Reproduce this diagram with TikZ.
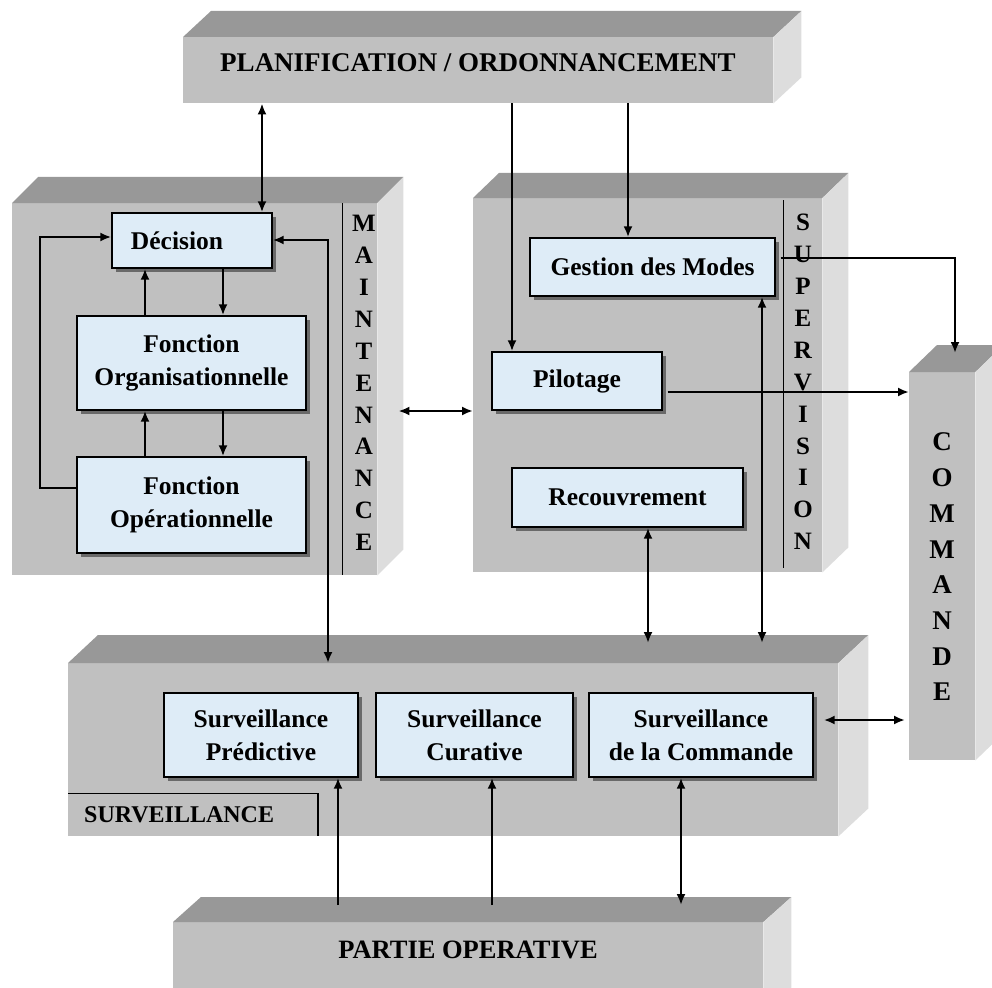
\documentclass[tikz,border=0pt]{standalone}
\usepackage{fontspec}
\setmainfont{Liberation Serif}
\usetikzlibrary{arrows.meta,calc,shadows}
\definecolor{topc}{RGB}{152,152,152}
\definecolor{frontc}{RGB}{192,192,192}
\definecolor{sidec}{RGB}{221,221,221}
\definecolor{boxc}{RGB}{222,236,247}
\definecolor{shadc}{RGB}{105,105,105}
\tikzset{
 front/.style={fill=frontc, draw=none, rectangle, inner sep=0pt, anchor=north west},
 ibox/.style={draw=black, line width=1.4pt, fill=boxc, rectangle, inner sep=0pt, align=center,
   font=\bfseries\fontsize{25.5}{33}\selectfont,
   general shadow={fill=shadc, shadow xshift=4pt, shadow yshift=-4pt}},
 arr/.style={line width=2.2pt, -{Latex[length=11pt,width=9pt]}},
 dbl/.style={line width=2.2pt, {Latex[length=11pt,width=9pt]}-{Latex[length=11pt,width=9pt]}},
 sepline/.style={line width=1.5pt},
 vtext/.style={align=center, inner sep=0pt, font=\bfseries\fontsize{25}{31.9}\selectfont},
 btext/.style={inner sep=0pt, font=\bfseries\fontsize{27}{30}\selectfont},
}
\newcommand\cubefaces[3]{%
  \fill[topc] (#1.north west) -- ++(#2,-#3) -- ($(#1.north east)+(#2,-#3)$) -- (#1.north east) -- cycle;
  \fill[sidec] (#1.north east) -- ($(#1.north east)+(#2,-#3)$) -- ($(#1.south east)+(#2,-#3)$) -- (#1.south east) -- cycle;}
\begin{document}
\begin{tikzpicture}[x=1pt,y=-1pt]
\useasboundingbox (0,0) rectangle (992,987);
\fill[white] (0,0) rectangle (992,987);
\clip (0,0) rectangle (992,987);
% blocks
\node[front, minimum width=590pt, minimum height=66pt] (plan) at (183,37) {};
\cubefaces{plan}{28}{26}
\node[front, minimum width=365pt, minimum height=372pt] (maint) at (12,203) {};
\cubefaces{maint}{26}{26}
\node[front, minimum width=349pt, minimum height=374pt] (superv) at (473,198) {};
\cubefaces{superv}{26}{25}
\node[front, minimum width=66pt, minimum height=388pt] (cmd) at (909,372) {};
\cubefaces{cmd}{28}{27}
\node[front, minimum width=770pt, minimum height=173pt] (surv) at (68,663) {};
\cubefaces{surv}{30}{28}
\node[front, minimum width=590pt, minimum height=90pt] (po) at (173,922) {};
\cubefaces{po}{28}{25}
% block texts
\node[btext] (plantxt) at (478,63) {PLANIFICATION / ORDONNANCEMENT};
\node[btext, font=\bfseries\fontsize{26.5}{30}\selectfont] (potxt) at (468,950) {PARTIE OPERATIVE};
\node[inner sep=0pt, anchor=west, font=\bfseries\fontsize{24}{26}\selectfont] (survtxt) at (84,815) {SURVEILLANCE};
\node[vtext] (mtxt) at (364,383) {M\\A\\I\\N\\T\\E\\N\\A\\N\\C\\E};
\node[vtext] (stxt) at (803,382) {S\\U\\P\\E\\R\\V\\I\\S\\I\\O\\N};
\node[vtext, font=\bfseries\fontsize{27}{35.7}\selectfont] (ctxt) at (942,567) {C\\O\\M\\M\\A\\N\\D\\E};
% separator lines
\draw[sepline] ($(maint.north east)+(-35,0)$) -- ($(maint.south east)+(-35,0)$);
\draw[sepline] ($(superv.north east)+(-39,2)$) -- ($(superv.south east)+(-39,-4)$);
\draw[sepline] ($(surv.south west)+(0,-43)$) -- ++(250,0) -- ($(surv.south west)+(250,0)$);
% inner boxes
\node[ibox, minimum width=160pt, minimum height=55pt] (dec) at (192,240.5) {Décision\hspace*{30pt}};
\node[ibox, minimum width=229pt, minimum height=94pt] (fo) at (191.5,363) {Fonction\\Organisationnelle};
\node[ibox, minimum width=229pt, minimum height=96pt] (fop) at (191.5,505) {Fonction\\Opérationnelle};
\node[ibox, minimum width=245pt, minimum height=58pt] (gdm) at (652.5,267) {Gestion des Modes};
\node[ibox, minimum width=170pt, minimum height=58pt] (pil) at (577,381) {Pilotage};
\node[ibox, minimum width=231pt, minimum height=59pt] (rec) at (627.5,497.5) {Recouvrement};
\node[ibox, minimum width=194pt, minimum height=84pt] (sp) at (261,735) {Surveillance\\Prédictive};
\node[ibox, minimum width=197pt, minimum height=84pt] (sc) at (474.5,735) {Surveillance\\Curative};
\node[ibox, minimum width=224pt, minimum height=84pt] (sdc) at (701,735) {Surveillance\\de la Commande};
% helper coordinates
\coordinate (c262) at (262,0);
\coordinate (c512) at (512,0);
\coordinate (c628) at (628,0);
\coordinate (c223) at (223,0);
\coordinate (c145) at (145,0);
\coordinate (y488) at (0,488);
\coordinate (k1) at (40,237);
\coordinate (k2) at (328,240);
\coordinate (k3) at (0,411);
\coordinate (k4) at (0,392);
\coordinate (k5) at (0,258);
\coordinate (k6) at (955,0);
\coordinate (k7) at (648,0);
\coordinate (k8) at (762,0);
\coordinate (k9) at (0,720);
\coordinate (k10) at (338,0);
\coordinate (k11) at (492,0);
\coordinate (k12) at (681,0);
% connectors
\draw[dbl] (plan.south -| c262) -- (dec.north -| c262);
\draw[arr] (plan.south -| c512) -- (pil.north -| c512);
\draw[arr] (plan.south -| c628) -- (gdm.north -| c628);
\draw[arr] (dec.south -| c223) -- (fo.north -| c223);
\draw[arr] (fo.north -| c145) -- (dec.south -| c145);
\draw[arr] (fo.south -| c223) -- (fop.north -| c223);
\draw[arr] (fop.north -| c145) -- (fo.south -| c145);
\draw[arr] (fop.west |- y488) -| (k1) -- (dec.west |- k1);
\draw[dbl] (dec.east |- k2) -- (k2) -- (surv.north -| k2);
\draw[dbl] ($(maint.east |- k3)+(21,0)$) -- (superv.west |- k3);
\draw[arr] ($(pil.east |- k4)+(5,0)$) -- (cmd.west |- k4);
\draw[arr] ($(gdm.east |- k5)+(5,0)$) -| ($(cmd.north -| k6)+(0,-19)$);
\draw[dbl] (rec.south -| k7) -- ($(surv.north -| k7)+(0,-20)$);
\draw[dbl] (gdm.south -| k8) -- ($(surv.north -| k8)+(0,-20)$);
\draw[dbl] ($(sdc.east |- k9)+(10,0)$) -- ($(cmd.west |- k9)+(-4,0)$);
\draw[arr] ($(po.north -| k10)+(0,-17)$) -- (sp.south -| k10);
\draw[arr] ($(po.north -| k11)+(0,-17)$) -- (sc.south -| k11);
\draw[dbl] ($(po.north -| k12)+(0,-17)$) -- (sdc.south -| k12);
\end{tikzpicture}
\end{document}
